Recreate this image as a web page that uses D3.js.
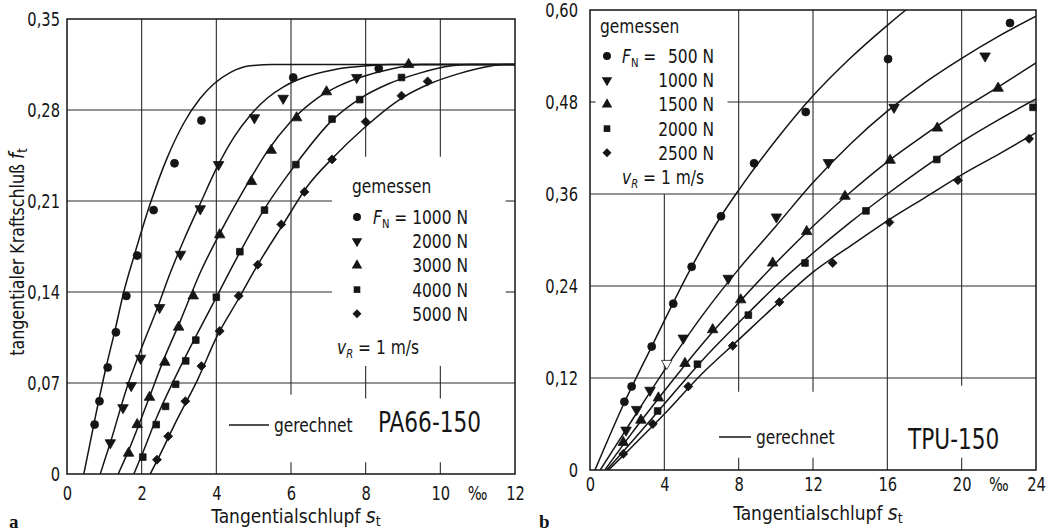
<!DOCTYPE html>
<html>
<head>
<meta charset="utf-8">
<script src="https://cdnjs.cloudflare.com/ajax/libs/d3/7.8.5/d3.min.js"></script>
<style>
  body { margin: 0; background: #fff; }
  svg text { font-family: "DejaVu Sans Condensed", "DejaVu Sans", sans-serif; font-stretch: condensed; fill: #151515; }
</style>
</head>
<body>
<div id="chart"></div>
<script>
// Achsen-Ticks
const paXTicks = [0, 2, 4, 6, 8, 10, 12];
const paYTicks = [0, 0.07, 0.14, 0.21, 0.28, 0.35];
const tpuXTicks = [0, 4, 8, 12, 16, 20, 24];
const tpuYTicks = [0, 0.12, 0.24, 0.36, 0.48, 0.60];

const paLoads = ["1000 N", "2000 N", "3000 N", "4000 N", "5000 N"];
const tpuLoads = ["500 N", "1000 N", "1500 N", "2000 N", "2500 N"];

// PA66-150: gemessen [s_t in ‰, f_t]
const pa1000 = [[0.74,0.038],[0.87,0.056],[1.09,0.082],[1.31,0.109],[1.59,0.137],[1.88,0.168],[2.32,0.203],[2.88,0.239],[3.60,0.272],[6.06,0.305],[8.35,0.312]];
const pa2000 = [[1.16,0.024],[1.50,0.051],[1.72,0.068],[1.97,0.089],[2.48,0.128],[3.04,0.169],[3.57,0.204],[4.06,0.238],[5.02,0.274],[5.79,0.289],[7.76,0.305]];
const pa3000 = [[1.65,0.016],[1.88,0.038],[2.21,0.059],[2.62,0.086],[2.99,0.113],[3.38,0.137],[4.09,0.184],[4.94,0.225],[5.47,0.249],[6.15,0.274],[6.95,0.294],[9.15,0.315]];
const pa4000 = [[2.03,0.013],[2.39,0.038],[2.64,0.052],[2.91,0.069],[3.18,0.087],[3.45,0.103],[4.00,0.136],[4.63,0.171],[5.29,0.203],[6.13,0.238],[7.10,0.273],[7.84,0.288],[8.96,0.305]];
const pa5000 = [[2.41,0.011],[2.71,0.029],[3.17,0.056],[3.60,0.083],[4.09,0.110],[4.60,0.137],[5.11,0.161],[5.74,0.192],[6.36,0.217],[7.10,0.242],[8.00,0.271],[8.96,0.291],[9.66,0.302]];

// PA66-150: gerechnet
const pa1000Calc = [[0.45,0],[0.76,0.044],[1.03,0.080],[1.29,0.111],[1.52,0.140],[1.80,0.168],[2.23,0.208],[2.68,0.243],[3.13,0.270],[3.57,0.289],[3.93,0.300],[4.38,0.309],[4.91,0.314],[5.5,0.315],[12,0.315]];
const pa2000Calc = [[0.89,0],[1.16,0.024],[1.61,0.067],[1.97,0.095],[2.41,0.127],[2.77,0.155],[3.13,0.180],[3.57,0.208],[4.02,0.236],[4.47,0.259],[4.91,0.276],[5.36,0.289],[5.81,0.298],[6.25,0.304],[7.15,0.311],[8.04,0.314],[8.7,0.315],[12,0.315]];
const pa3000Calc = [[1.37,0],[1.65,0.018],[2.14,0.054],[2.59,0.088],[3.04,0.118],[3.57,0.155],[4.11,0.186],[4.91,0.227],[5.36,0.248],[5.99,0.271],[6.70,0.289],[7.24,0.298],[7.95,0.306],[8.6,0.311],[9.5,0.315],[12,0.315]];
const pa4000Calc = [[1.79,0],[2.01,0.015],[2.41,0.044],[2.86,0.072],[3.49,0.108],[4.02,0.137],[4.38,0.157],[5.27,0.203],[6.12,0.238],[7.10,0.272],[7.86,0.289],[8.6,0.300],[9.4,0.308],[10.3,0.314],[10.8,0.315],[12,0.315]];
const pa5000Calc = [[2.23,0],[2.46,0.013],[2.95,0.042],[3.49,0.072],[4.02,0.106],[4.60,0.135],[5.09,0.160],[5.81,0.193],[6.43,0.221],[7.15,0.244],[7.95,0.266],[8.96,0.289],[9.7,0.300],[10.5,0.308],[11.2,0.313],[11.7,0.315],[12,0.315]];

// TPU-150: gemessen
const tpu500 = [[1.85,0.089],[2.24,0.109],[3.32,0.161],[4.48,0.217],[5.47,0.265],[7.05,0.331],[8.83,0.400],[11.61,0.467],[16.04,0.536],[22.6,0.583]];
const tpu1000 = [[1.94,0.052],[2.51,0.079],[3.23,0.104],[4.13,0.139],[5.02,0.172],[7.44,0.250],[10.03,0.330],[12.83,0.401],[16.36,0.473],[21.26,0.540]];
const tpu1500 = [[1.79,0.036],[2.74,0.065],[3.68,0.094],[5.11,0.139],[6.60,0.183],[8.11,0.222],[9.83,0.270],[11.66,0.311],[13.72,0.357],[16.15,0.404],[18.69,0.446],[21.96,0.498]];
const tpu2000 = [[3.64,0.077],[5.78,0.138],[8.52,0.202],[11.57,0.270],[14.85,0.338],[18.66,0.405],[23.84,0.473]];
const tpu2500 = [[1.79,0.021],[3.38,0.060],[5.29,0.109],[7.68,0.162],[10.19,0.219],[13.06,0.270],[16.11,0.323],[19.8,0.378],[23.63,0.432]];

// TPU-150: gerechnet
const tpu500Calc = [[0.27,0],[1.85,0.088],[3.32,0.161],[5.47,0.265],[7.05,0.331],[8,0.365],[10,0.430],[12,0.488],[14,0.537],[16,0.580],[17,0.600],[18,0.618]];
const tpu1000Calc = [[0.55,0],[2,0.055],[4,0.130],[6,0.200],[8,0.262],[10,0.318],[12,0.375],[14,0.425],[16,0.468],[18,0.505],[20,0.537],[22,0.566],[24,0.592]];
const tpu1500Calc = [[0.8,0],[2,0.040],[4,0.103],[6,0.163],[8,0.218],[10,0.270],[12,0.318],[14,0.362],[16,0.402],[18,0.437],[20,0.470],[22,0.500],[24,0.531]];
const tpu2000Calc = [[0.9,0],[2,0.030],[4,0.086],[6,0.142],[8,0.192],[10,0.240],[12,0.283],[14,0.323],[16,0.360],[18,0.395],[20,0.428],[22,0.457],[24,0.484]];
const tpu2500Calc = [[1.0,0],[2,0.024],[4,0.073],[6,0.125],[8,0.170],[10,0.215],[12,0.258],[14,0.292],[16,0.325],[18,0.355],[20,0.385],[22,0.412],[24,0.440]];

const svg = d3.select("#chart").append("svg")
    .attr("width", 1046)
    .attr("height", 531);

const ink = "#151515";
const squeeze = 0.86; // Schrift schmaler machen (DIN-ähnlich)
const symbols = [
    { type: d3.symbolCircle, size: 50, rot: 0 },
    { type: d3.symbolTriangle, size: 48, rot: 180 },
    { type: d3.symbolTriangle, size: 48, rot: 0 },
    { type: d3.symbolSquare, size: 44, rot: 0 },
    { type: d3.symbolSquare, size: 40, rot: 45 }
];

const fmtComma = d => d === 0 ? "0" : d3.format(".2f")(d).replace(".", ",");

function drawPanel(p) {
    const g = svg.append("g");
    const x = p.x, y = p.y;
    const [x0, x1] = x.domain(), [y0, y1] = y.domain();

    // Gitter
    const seg = (xa, ya, xb, yb) => g.append("line")
        .attr("x1", x(xa)).attr("y1", y(ya)).attr("x2", x(xb)).attr("y2", y(yb))
        .attr("stroke", "#2a2a2a").attr("stroke-width", 1.1);
    p.grid(seg);

    g.append("rect")
        .attr("x", x(x0)).attr("y", y(y1))
        .attr("width", x(x1) - x(x0)).attr("height", y(y0) - y(y1))
        .attr("fill", "none").attr("stroke", ink).attr("stroke-width", 1.5);

    // Achsen
    const ax = g.append("g").attr("transform", `translate(${x(x0)},0)`)
        .call(d3.axisLeft(y).tickValues(p.yTicks).tickSize(0).tickPadding(p.yPad).tickFormat(fmtComma));
    ax.select(".domain").remove();
    ax.selectAll("text").attr("font-size", 19).attr("fill", ink);

    const bx = g.append("g").attr("transform", `translate(0,${y(y0)})`)
        .call(d3.axisBottom(x).tickValues(p.xTicks).tickSize(0).tickPadding(p.xPad).tickFormat(d3.format("d")));
    bx.select(".domain").remove();
    bx.selectAll("text").attr("font-size", 19).attr("fill", ink);

    g.append("text")
        .attr("x", x(p.permille)).attr("y", y(y0) + p.xPad + 13)
        .attr("text-anchor", "middle").attr("font-size", 19)
        .text("‰");

    // Kurven
    const clipId = "clip" + p.id;
    svg.append("clipPath").attr("id", clipId).append("rect")
        .attr("x", x(x0)).attr("y", y(y1))
        .attr("width", x(x1) - x(x0)).attr("height", y(y0) - y(y1));

    const line = d3.line().x(d => x(d[0])).y(d => y(d[1])).curve(d3.curveMonotoneX);
    g.append("g").attr("clip-path", `url(#${clipId})`)
        .selectAll("path").data(p.calc).join("path")
        .attr("d", line).attr("fill", "none")
        .attr("stroke", ink).attr("stroke-width", 1.5);

    // Messpunkte
    p.meas.forEach((pts, i) => {
        const s = symbols[i];
        g.append("g").selectAll("path").data(pts).join("path")
            .attr("d", d3.symbol().type(s.type).size(s.size))
            .attr("transform", d => `translate(${x(d[0])},${y(d[1])}) rotate(${s.rot})`)
            .attr("fill", (d, j) => (p.hollow && p.hollow[0] === i && p.hollow[1] === j) ? "#fff" : ink)
            .attr("stroke", ink).attr("stroke-width", 0.8);
    });

    // Legende gemessen
    const lg = g.append("g");
    lg.append("text").attr("x", p.leg.titleX).attr("y", p.leg.titleY)
        .attr("font-size", 20).text("gemessen");
    p.loads.forEach((lab, i) => {
        const yy = p.leg.rowY + i * p.leg.rowH;
        const s = symbols[i];
        lg.append("path")
            .attr("d", d3.symbol().type(s.type).size(s.size)())
            .attr("transform", `translate(${p.leg.markX},${yy}) rotate(${s.rot})`)
            .attr("fill", ink);
        lg.append("text").attr("x", p.leg.valX).attr("y", yy + 7)
            .attr("text-anchor", "end").attr("font-size", 20).text(lab);
        if (i === 0) {
            const t = lg.append("text").attr("x", p.leg.fnX).attr("y", yy + 7).attr("font-size", 20);
            t.append("tspan").attr("font-style", "italic").text("F");
            t.append("tspan").attr("font-size", 13).attr("dy", 4).text("N");
            t.append("tspan").attr("dy", -4).text(" =");
        }
    });
    const vt = lg.append("text").attr("x", p.leg.vX).attr("y", p.leg.vY).attr("font-size", 20);
    vt.append("tspan").attr("font-style", "italic").text("v");
    vt.append("tspan").attr("font-size", 13).attr("font-style", "italic").attr("dy", 4).text("R");
    vt.append("tspan").attr("dy", -4).text(" = 1 m/s");

    // Legende gerechnet
    g.append("line")
        .attr("x1", p.calcLeg.x1).attr("x2", p.calcLeg.x2)
        .attr("y1", p.calcLeg.y).attr("y2", p.calcLeg.y)
        .attr("stroke", ink).attr("stroke-width", 1.5);
    g.append("text").attr("x", p.calcLeg.x2 + 5).attr("y", p.calcLeg.y + 7)
        .attr("font-size", 20).text("gerechnet");
    g.append("text").attr("x", p.material.x).attr("y", p.material.y)
        .attr("font-size", 28).text(p.material.text);

    // Achsentitel
    const xt = g.append("text").attr("class", "noscale")
        .attr("x", p.xTitle.x).attr("y", p.xTitle.y)
        .attr("text-anchor", "middle").attr("font-size", 19);
    xt.append("tspan").text("Tangentialschlupf ");
    xt.append("tspan").attr("font-style", "italic").attr("font-size", 21).text("s");
    xt.append("tspan").attr("font-size", 14).attr("dy", 3).text("t");

    g.append("text").attr("class", "noscale")
        .attr("x", p.letter.x).attr("y", p.letter.y)
        .attr("font-weight", "bold").attr("font-size", 19)
        .style("font-family", "'Liberation Serif', serif").text(p.letter.text);
}

// Panel a: PA66-150
const xPA = d3.scaleLinear().domain([0, 12]).range([67, 515]);
const yPA = d3.scaleLinear().domain([0, 0.35]).range([474, 19]);

drawPanel({
    id: "a", x: xPA, y: yPA, xTicks: paXTicks, yTicks: paYTicks, yPad: 7, xPad: 13, permille: 11,
    calc: [pa1000Calc, pa2000Calc, pa3000Calc, pa4000Calc, pa5000Calc],
    meas: [pa1000, pa2000, pa3000, pa4000, pa5000],
    loads: paLoads,
    grid: seg => {
        seg(0, 0.07, 12, 0.07); seg(0, 0.28, 12, 0.28);
        seg(0, 0.14, 7.1, 0.14); seg(11.75, 0.14, 12, 0.14);
        seg(0, 0.21, 7.1, 0.21); seg(11.75, 0.21, 12, 0.21);
        seg(2, 0, 2, 0.35); seg(4, 0, 4, 0.35);
        seg(6, 0.061, 6, 0.35); seg(6, 0, 6, 0.009);
        [8, 10].forEach(v => { seg(v, 0.244, v, 0.35); seg(v, 0.058, v, 0.083); seg(v, 0, v, 0.009); });
    },
    leg: { titleX: 352, titleY: 193, markX: 357, rowY: 217, rowH: 24.2, valX: 468, fnX: 373, vX: 337, vY: 354 },
    calcLeg: { x1: 229, x2: 269, y: 425 },
    material: { x: 378, y: 432, text: "PA66-150" },
    xTitle: { x: 296, y: 523 },
    letter: { x: 9, y: 528, text: "a" }
});

// Panel b: TPU-150
const xTPU = d3.scaleLinear().domain([0, 24]).range([590, 1036]);
const yTPU = d3.scaleLinear().domain([0, 0.6]).range([470, 10]);

drawPanel({
    id: "b", x: xTPU, y: yTPU, xTicks: tpuXTicks, yTicks: tpuYTicks, yPad: 12, xPad: 8, permille: 22,
    calc: [tpu500Calc, tpu1000Calc, tpu1500Calc, tpu2000Calc, tpu2500Calc],
    meas: [tpu500, tpu1000, tpu1500, tpu2000, tpu2500],
    hollow: [1, 3],
    loads: tpuLoads,
    grid: seg => {
        seg(0, 0.12, 24, 0.12); seg(0, 0.24, 24, 0.24); seg(0, 0.36, 24, 0.36);
        seg(0, 0.48, 0.3, 0.48); seg(7.4, 0.48, 24, 0.48);
        seg(4, 0, 4, 0.36);
        [8, 12].forEach(v => { seg(v, 0.102, v, 0.6); seg(v, 0, v, 0.016); });
        seg(16, 0, 16, 0.6);
        seg(20, 0.11, 20, 0.6); seg(20, 0, 20, 0.016);
    },
    leg: { titleX: 600, titleY: 33, markX: 607, rowY: 56, rowH: 24.2, valX: 714, fnX: 622, vX: 622, vY: 184 },
    calcLeg: { x1: 719, x2: 751, y: 437 },
    material: { x: 908, y: 449, text: "TPU-150" },
    xTitle: { x: 818, y: 520 },
    letter: { x: 539, y: 528, text: "b" }
});

// Schrift horizontal stauchen, um den Anker herum
svg.selectAll("text:not(.noscale)").each(function () {
    const t = d3.select(this);
    const tx = +t.attr("x") || 0, ty = +t.attr("y") || 0;
    t.attr("transform", `translate(${tx},${ty}) scale(${squeeze},1) translate(${-tx},${-ty})`);
});

// y-Achsentitel links
const yt = svg.append("text").attr("class", "noscale")
    .attr("transform", "translate(24,252) rotate(-90) scale(0.93,1)")
    .attr("text-anchor", "middle").attr("font-size", 19);
yt.append("tspan").text("tangentialer Kraftschluß ");
yt.append("tspan").attr("font-style", "italic").attr("font-size", 21).text("f");
yt.append("tspan").attr("font-size", 14).attr("dy", 3).text("t");
</script>
</body>
</html>
